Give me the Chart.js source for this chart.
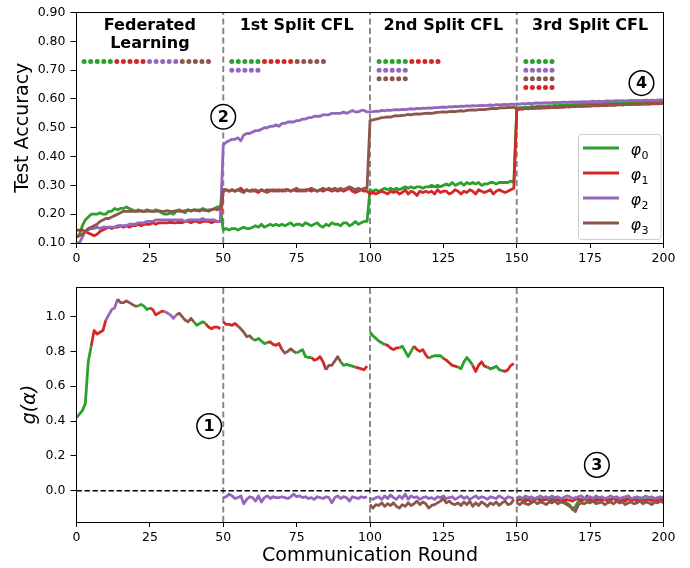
<!DOCTYPE html>
<html>
<head>
<meta charset="utf-8">
<script src="https://cdn.jsdelivr.net/npm/chart.js@4.4.0/dist/chart.umd.min.js"></script>
<style>
  body { margin: 0; background: #fff; }
  #wrap { position: relative; width: 690px; height: 568px; }
  #accChart { position: absolute; left: 0; top: 0; }
  #gChart { position: absolute; left: 0; top: 265px; }
</style>
</head>
<body>
<div id="wrap">
  <canvas id="accChart" width="690" height="265"></canvas>
  <canvas id="gChart" width="690" height="303"></canvas>
</div>
<script>
const colors = ['#2ca02c', '#d62728', '#9467bd', '#8c564b'];
const phases = [0, 50, 100, 150, 200];
const phaseNames = [['Federated', 'Learning'], ['1st Split CFL'], ['2nd Split CFL'], ['3rd Split CFL']];
const xTicks = [0, 25, 50, 75, 100, 125, 150, 175, 200];
const accTicks = [0.1, 0.2, 0.3, 0.4, 0.5, 0.6, 0.7, 0.8, 0.9];
const gTicks = [0, 0.2, 0.4, 0.6, 0.8, 1.0];

// Test accuracy, rounds 0..200
const acc0 = [0.12,0.13,0.16,0.18,0.19,0.2,0.2,0.2,0.205,0.2,
  0.2,0.21,0.21,0.22,0.215,0.22,0.22,0.225,0.22,0.215,
  0.21,0.215,0.21,0.21,0.215,0.21,0.21,0.215,0.21,0.205,
  0.2,0.2,0.205,0.2,0.21,0.215,0.21,0.205,0.215,0.21,
  0.215,0.215,0.21,0.22,0.215,0.21,0.215,0.22,0.225,0.225,
  0.145,0.15,0.145,0.15,0.15,0.145,0.15,0.155,0.15,0.15,
  0.155,0.16,0.155,0.165,0.155,0.16,0.165,0.16,0.165,0.16,
  0.165,0.16,0.165,0.17,0.16,0.165,0.165,0.16,0.17,0.165,
  0.16,0.165,0.17,0.16,0.155,0.165,0.16,0.17,0.165,0.165,
  0.16,0.17,0.17,0.16,0.165,0.175,0.165,0.17,0.175,0.175,
  0.285,0.28,0.285,0.28,0.285,0.29,0.285,0.29,0.285,0.29,
  0.285,0.29,0.295,0.29,0.295,0.29,0.295,0.295,0.29,0.295,
  0.295,0.3,0.295,0.3,0.295,0.3,0.305,0.3,0.31,0.3,
  0.305,0.31,0.3,0.31,0.305,0.31,0.305,0.31,0.3,0.305,
  0.305,0.31,0.31,0.305,0.31,0.31,0.31,0.31,0.315,0.31,
  0.565,0.57,0.57,0.572,0.57,0.574,0.572,0.575,0.574,0.576,
  0.575,0.577,0.576,0.578,0.577,0.579,0.578,0.58,0.579,0.58,
  0.581,0.58,0.582,0.581,0.583,0.582,0.584,0.583,0.585,0.584,
  0.585,0.586,0.585,0.587,0.586,0.587,0.588,0.587,0.588,0.589,
  0.588,0.589,0.59,0.589,0.59,0.591,0.59,0.591,0.592,0.591,0.592];
const acc1 = [0.145,0.145,0.145,0.14,0.135,0.13,0.125,0.13,0.14,0.145,
  0.15,0.155,0.15,0.155,0.155,0.16,0.155,0.16,0.155,0.16,
  0.16,0.165,0.16,0.165,0.165,0.165,0.17,0.165,0.17,0.17,
  0.17,0.17,0.175,0.17,0.17,0.175,0.17,0.175,0.175,0.17,
  0.175,0.175,0.17,0.175,0.175,0.175,0.17,0.175,0.175,0.175,
  0.28,0.285,0.28,0.285,0.28,0.285,0.29,0.28,0.285,0.28,
  0.285,0.28,0.275,0.285,0.28,0.285,0.28,0.285,0.28,0.285,
  0.28,0.285,0.285,0.28,0.285,0.28,0.285,0.28,0.285,0.285,
  0.28,0.285,0.28,0.285,0.28,0.285,0.285,0.28,0.285,0.28,
  0.285,0.28,0.285,0.29,0.28,0.275,0.28,0.285,0.28,0.28,
  0.27,0.275,0.27,0.275,0.28,0.275,0.27,0.28,0.275,0.28,
  0.27,0.275,0.285,0.27,0.28,0.275,0.265,0.28,0.275,0.28,
  0.275,0.28,0.27,0.285,0.275,0.28,0.28,0.27,0.275,0.285,
  0.28,0.27,0.28,0.275,0.285,0.28,0.27,0.285,0.28,0.275,
  0.28,0.285,0.27,0.28,0.285,0.28,0.275,0.28,0.285,0.29,
  0.56,0.565,0.565,0.567,0.566,0.568,0.567,0.569,0.568,0.57,
  0.569,0.571,0.57,0.572,0.571,0.573,0.572,0.574,0.573,0.575,
  0.574,0.575,0.576,0.575,0.577,0.576,0.577,0.578,0.577,0.578,
  0.579,0.578,0.58,0.579,0.58,0.581,0.58,0.581,0.582,0.581,
  0.582,0.583,0.582,0.583,0.584,0.583,0.584,0.585,0.584,0.585,0.586];
const acc2 = [0.1,0.1,0.12,0.14,0.145,0.15,0.15,0.155,0.15,0.155,
  0.155,0.155,0.155,0.155,0.16,0.16,0.16,0.16,0.165,0.165,
  0.165,0.17,0.17,0.17,0.175,0.175,0.175,0.18,0.18,0.18,
  0.18,0.18,0.18,0.18,0.18,0.18,0.18,0.175,0.18,0.18,
  0.18,0.18,0.18,0.185,0.18,0.18,0.18,0.18,0.175,0.175,
  0.44,0.45,0.455,0.46,0.46,0.465,0.455,0.475,0.48,0.48,
  0.485,0.49,0.49,0.495,0.5,0.5,0.505,0.505,0.51,0.505,
  0.515,0.515,0.52,0.52,0.52,0.525,0.525,0.53,0.53,0.535,
  0.535,0.54,0.54,0.54,0.545,0.545,0.545,0.55,0.55,0.55,
  0.55,0.555,0.55,0.555,0.56,0.555,0.555,0.56,0.56,0.555,
  0.555,0.556,0.558,0.557,0.56,0.559,0.561,0.56,0.562,0.563,
  0.562,0.564,0.563,0.565,0.566,0.565,0.567,0.566,0.568,0.567,
  0.569,0.568,0.57,0.57,0.571,0.572,0.571,0.573,0.572,0.574,
  0.573,0.575,0.574,0.576,0.575,0.577,0.576,0.577,0.578,0.577,
  0.578,0.579,0.578,0.58,0.579,0.58,0.581,0.58,0.582,0.581,
  0.583,0.582,0.584,0.583,0.585,0.584,0.585,0.586,0.585,0.586,
  0.587,0.586,0.587,0.588,0.587,0.588,0.589,0.588,0.589,0.59,
  0.589,0.59,0.59,0.591,0.59,0.591,0.592,0.591,0.592,0.591,
  0.592,0.593,0.592,0.593,0.594,0.593,0.594,0.593,0.594,0.595,
  0.594,0.595,0.594,0.595,0.596,0.595,0.596,0.595,0.596,0.597,0.597];
const acc3 = [0.12,0.125,0.13,0.14,0.15,0.155,0.16,0.165,0.175,0.18,
  0.185,0.185,0.19,0.195,0.2,0.205,0.21,0.21,0.21,0.21,
  0.21,0.21,0.212,0.21,0.21,0.212,0.21,0.21,0.212,0.21,
  0.21,0.212,0.21,0.21,0.212,0.21,0.21,0.212,0.215,0.212,
  0.215,0.212,0.215,0.215,0.212,0.215,0.215,0.218,0.215,0.22,
  0.285,0.285,0.28,0.285,0.28,0.285,0.28,0.275,0.285,0.28,
  0.28,0.285,0.28,0.285,0.28,0.275,0.285,0.28,0.285,0.28,
  0.285,0.28,0.285,0.28,0.285,0.29,0.28,0.285,0.28,0.285,
  0.29,0.285,0.28,0.285,0.29,0.285,0.29,0.285,0.29,0.285,
  0.29,0.285,0.29,0.295,0.29,0.285,0.29,0.285,0.29,0.29,
  0.525,0.527,0.53,0.532,0.535,0.536,0.538,0.537,0.54,0.542,
  0.541,0.543,0.544,0.546,0.545,0.547,0.548,0.547,0.549,0.55,
  0.551,0.55,0.552,0.553,0.554,0.555,0.554,0.556,0.557,0.556,
  0.558,0.559,0.558,0.56,0.561,0.562,0.561,0.563,0.564,0.563,
  0.565,0.566,0.567,0.566,0.568,0.57,0.569,0.571,0.57,0.572,
  0.565,0.566,0.566,0.567,0.566,0.568,0.567,0.569,0.568,0.569,
  0.57,0.569,0.571,0.57,0.572,0.571,0.572,0.573,0.572,0.574,
  0.573,0.574,0.575,0.574,0.576,0.575,0.576,0.577,0.576,0.578,
  0.577,0.578,0.579,0.578,0.579,0.58,0.579,0.58,0.581,0.58,
  0.581,0.582,0.581,0.582,0.583,0.582,0.583,0.584,0.583,0.584,0.585];

// g(alpha): upper curve per phase (rounds 0-49, 50-99, 100-149) with the client that owns each segment
const gFed = [0.42,0.44,0.46,0.5,0.74,0.83,0.92,0.9,0.91,0.92,
  0.98,1.01,1.04,1.05,1.1,1.08,1.08,1.09,1.08,1.07,
  1.06,1.06,1.07,1.06,1.04,1.05,1.04,1.01,1.02,1.03,
  1.03,1.02,1.01,0.99,1.01,1.02,1.0,0.98,0.97,0.99,
  0.97,0.95,0.96,0.97,0.96,0.94,0.93,0.94,0.94,0.93];
const gFedOwner = [0,0,0,0,0,1,1,1,1,1,2,2,2,2,3,3,3,3,3,3,3,0,0,0,0,
  1,1,1,1,1,2,2,2,2,3,3,3,3,3,3,0,0,0,0,1,1,1,1,1,1];
const gSplit1 = [0.97,0.955,0.955,0.95,0.96,0.945,0.93,0.91,0.885,0.89,
  0.87,0.865,0.875,0.86,0.845,0.85,0.855,0.84,0.835,0.845,
  0.81,0.79,0.8,0.815,0.8,0.79,0.8,0.81,0.77,0.765,
  0.765,0.75,0.755,0.77,0.74,0.695,0.72,0.72,0.745,0.77,
  0.74,0.72,0.725,0.72,0.715,0.71,0.705,0.7,0.695,0.715];
const gSplit1Owner = [1,1,1,1,1,3,3,3,3,3,0,0,0,0,0,1,1,1,1,1,3,3,3,3,3,
  0,0,0,0,0,1,1,1,1,1,3,3,3,3,3,0,0,0,0,0,1,1,1,1,1];
const gSplit2 = [0.91,0.89,0.875,0.86,0.85,0.84,0.835,0.82,0.81,0.82,
  0.82,0.83,0.8,0.77,0.8,0.83,0.81,0.8,0.81,0.78,
  0.76,0.77,0.775,0.775,0.775,0.76,0.75,0.735,0.72,0.715,
  0.71,0.7,0.74,0.765,0.745,0.72,0.685,0.72,0.74,0.715,
  0.71,0.7,0.705,0.715,0.695,0.69,0.685,0.695,0.72,0.73];
const gSplit2Owner = [0,0,0,0,0,1,1,1,1,1,0,0,0,0,0,1,1,1,1,1,0,0,0,0,0,
  1,1,1,1,1,0,0,0,0,0,1,1,1,1,1,0,0,0,0,0,1,1,1,1,1];

// g(alpha): lower curves
const gPurple1 = [-0.04,-0.035,-0.02,-0.03,-0.045,-0.04,-0.03,-0.075,-0.05,-0.035,
  -0.04,-0.06,-0.03,-0.065,-0.04,-0.03,-0.045,-0.035,-0.04,-0.04,
  -0.035,-0.04,-0.045,-0.035,-0.02,-0.035,-0.03,-0.04,-0.035,-0.045,
  -0.04,-0.05,-0.035,-0.04,-0.045,-0.035,-0.04,-0.07,-0.04,-0.03,
  -0.045,-0.035,-0.04,-0.06,-0.035,-0.04,-0.045,-0.035,-0.04,-0.035];
const gPurple2 = [-0.045,-0.05,-0.04,-0.035,-0.05,-0.03,-0.045,-0.025,-0.04,-0.05,
  -0.03,-0.045,-0.02,-0.05,-0.03,-0.04,-0.035,-0.05,-0.04,-0.035,
  -0.045,-0.04,-0.05,-0.035,-0.04,-0.03,-0.045,-0.04,-0.035,-0.05,
  -0.04,-0.03,-0.045,-0.035,-0.05,-0.04,-0.03,-0.045,-0.035,-0.04,
  -0.05,-0.035,-0.04,-0.045,-0.03,-0.04,-0.05,-0.035,-0.04,-0.045];
const gBrown2 = [-0.08,-0.1,-0.08,-0.085,-0.07,-0.09,-0.075,-0.085,-0.07,-0.09,
  -0.1,-0.08,-0.09,-0.07,-0.085,-0.075,-0.06,-0.08,-0.065,-0.075,
  -0.1,-0.085,-0.08,-0.07,-0.06,-0.045,-0.07,-0.06,-0.075,-0.08,
  -0.07,-0.085,-0.065,-0.08,-0.06,-0.09,-0.07,-0.085,-0.065,-0.075,
  -0.09,-0.07,-0.08,-0.065,-0.085,-0.07,-0.06,-0.08,-0.075,-0.05];
const gLast0 = [-0.05,-0.04,-0.06,-0.045,-0.05,-0.04,-0.055,-0.045,-0.05,-0.04,
  -0.045,-0.055,-0.04,-0.05,-0.045,-0.06,-0.05,-0.07,-0.08,-0.11,
  -0.09,-0.06,-0.05,-0.045,-0.055,-0.04,-0.05,-0.045,-0.055,-0.04,
  -0.05,-0.045,-0.06,-0.04,-0.05,-0.055,-0.045,-0.05,-0.04,-0.06,
  -0.045,-0.05,-0.04,-0.055,-0.05,-0.045,-0.06,-0.045,-0.05,-0.04,-0.05];
const gLast1 = [-0.06,-0.05,-0.045,-0.06,-0.05,-0.07,-0.05,-0.04,-0.06,-0.055,
  -0.05,-0.04,-0.06,-0.05,-0.055,-0.045,-0.06,-0.05,-0.055,-0.06,
  -0.05,-0.045,-0.06,-0.05,-0.03,-0.055,-0.05,-0.06,-0.045,-0.055,
  -0.05,-0.06,-0.05,-0.045,-0.055,-0.07,-0.05,-0.06,-0.045,-0.055,
  -0.05,-0.06,-0.045,-0.055,-0.06,-0.05,-0.055,-0.045,-0.06,-0.05,-0.055];
const gLast2 = [-0.04,-0.035,-0.045,-0.03,-0.04,-0.035,-0.045,-0.04,-0.03,-0.04,
  -0.035,-0.045,-0.03,-0.04,-0.035,-0.045,-0.04,-0.03,-0.035,-0.045,
  -0.04,-0.035,-0.03,-0.045,-0.04,-0.035,-0.045,-0.03,-0.04,-0.035,
  -0.045,-0.04,-0.03,-0.04,-0.035,-0.045,-0.04,-0.035,-0.03,-0.045,
  -0.04,-0.035,-0.045,-0.04,-0.03,-0.04,-0.035,-0.045,-0.04,-0.035,-0.04];
const gLast3 = [-0.07,-0.08,-0.065,-0.075,-0.08,-0.07,-0.06,-0.075,-0.065,-0.07,
  -0.08,-0.065,-0.07,-0.06,-0.075,-0.065,-0.07,-0.08,-0.09,-0.1,
  -0.12,-0.08,-0.07,-0.075,-0.065,-0.07,-0.06,-0.075,-0.07,-0.065,
  -0.08,-0.07,-0.065,-0.075,-0.06,-0.07,-0.065,-0.08,-0.07,-0.065,
  -0.075,-0.07,-0.06,-0.075,-0.065,-0.07,-0.08,-0.065,-0.07,-0.06,-0.07];

// cluster membership dots per phase (client index per dot, one list per row)
const dotRows = [
  [[0,0,0,0,0,1,1,1,1,1,2,2,2,2,2,3,3,3,3,3]],
  [[0,0,0,0,0,1,1,1,1,1,3,3,3,3,3], [2,2,2,2,2]],
  [[0,0,0,0,0,1,1,1,1,1], [2,2,2,2,2], [3,3,3,3,3]],
  [[0,0,0,0,0], [2,2,2,2,2], [3,3,3,3,3], [1,1,1,1,1]]
];
const dotStart = [2.6, 52.9, 103.1, 153.1];
const dotStep = 2.23;
const dotTop = 0.73;
const dotGap = 0.03;

const accMarkers = [{text: '2', x: 50, y: 0.538}, {text: '4', x: 192.5, y: 0.655}];
const gMarkers = [{text: '1', x: 45.2, y: 0.371}, {text: '3', x: 177.3, y: 0.148}];

Chart.defaults.font.family = '"DejaVu Sans"';
Chart.defaults.font.size = 12.5;
Chart.defaults.color = '#000';

const xy = (start, vals) => vals.map((v, i) => ({x: start + i, y: v}));

const line = (start, vals, color, order) => ({
  data: xy(start, vals),
  borderColor: color,
  borderWidth: 2.8,
  pointRadius: 0,
  borderJoinStyle: 'round',
  tension: 0,
  order: order
});

const ownedLine = (start, vals, owner) => ({
  data: xy(start, vals),
  borderColor: colors[owner[0]],
  segment: { borderColor: ctx => colors[owner[ctx.p0DataIndex]] },
  borderWidth: 2.8,
  pointRadius: 0,
  borderJoinStyle: 'round',
  tension: 0,
  order: 1
});

const separators = (ymin, ymax) => [50, 100, 150].map(b => ({
  data: [{x: b, y: ymin}, {x: b, y: ymax}],
  borderColor: '#888888',
  borderWidth: 2,
  borderDash: [6, 3.5],
  pointRadius: 0,
  order: 10
}));

const dotSets = colors.map((c, k) => {
  const pts = [];
  dotRows.forEach((rows, p) => rows.forEach((row, r) => row.forEach((owner, i) => {
    if (owner === k) pts.push({x: dotStart[p] + i * dotStep, y: dotTop - r * dotGap});
  })));
  return {data: pts, showLine: false, pointRadius: 2.5, pointBorderWidth: 0,
    pointBackgroundColor: c, order: 0};
});

// frame, phase titles, circled markers and legend
const overlay = {
  id: 'overlay',
  afterDatasetsDraw(chart, args, opts) {
    const {ctx, chartArea: a, scales: {x, y}} = chart;
    ctx.save();
    ctx.strokeStyle = '#000';
    ctx.lineWidth = 1;
    const l = Math.round(a.left - 0.5) + 0.5, t = Math.round(a.top - 0.5) + 0.5;
    const r = Math.round(a.right - 0.5) + 0.5, b = Math.round(a.bottom - 0.5) + 0.5;
    ctx.strokeRect(l, t, r - l, b - t);

    if (opts.titles) {
      ctx.fillStyle = '#000';
      ctx.font = 'bold 16px "DejaVu Sans"';
      ctx.textAlign = 'center';
      ctx.textBaseline = 'middle';
      phaseNames.forEach((lines, i) => {
        const cx = x.getPixelForValue((phases[i] + phases[i + 1]) / 2);
        lines.forEach((s, j) => ctx.fillText(s, cx, a.top + 13 + j * 18.5));
      });
    }

    opts.markers.forEach(m => {
      const px = x.getPixelForValue(m.x), py = y.getPixelForValue(m.y);
      ctx.beginPath();
      ctx.arc(px, py, 12.3, 0, Math.PI * 2);
      ctx.fillStyle = '#fff';
      ctx.fill();
      ctx.lineWidth = 1.5;
      ctx.strokeStyle = '#000';
      ctx.stroke();
      ctx.fillStyle = '#000';
      ctx.font = 'bold 16px "DejaVu Sans"';
      ctx.textAlign = 'center';
      ctx.textBaseline = 'middle';
      ctx.fillText(m.text, px, py + 1);
    });

    if (opts.legend) {
      const lx = a.right - 85, ly = a.top + 122;
      ctx.beginPath();
      ctx.roundRect(lx, ly, 82.5, 105, 3);
      ctx.fillStyle = 'rgba(255,255,255,0.8)';
      ctx.fill();
      ctx.strokeStyle = '#cccccc';
      ctx.lineWidth = 1;
      ctx.stroke();
      colors.forEach((c, k) => {
        const ry = ly + 13.5 + k * 25;
        ctx.beginPath();
        ctx.moveTo(lx + 4.5, ry);
        ctx.lineTo(lx + 40.5, ry);
        ctx.strokeStyle = c;
        ctx.lineWidth = 3;
        ctx.stroke();
        ctx.fillStyle = '#000';
        ctx.textAlign = 'left';
        ctx.textBaseline = 'middle';
        ctx.font = 'italic 16px "DejaVu Sans"';
        ctx.fillText('φ', lx + 52, ry + 3);
        const w = ctx.measureText('φ').width;
        ctx.font = '11px "DejaVu Sans"';
        ctx.fillText(String(k), lx + 52 + w + 0.5, ry + 8);
      });
    }
    ctx.restore();
  }
};

const xScale = (withTitle) => ({
  type: 'linear',
  min: 0, max: 200,
  afterBuildTicks: s => { s.ticks = xTicks.map(v => ({value: v})); },
  afterFit: s => { s.height = withTitle ? 46 : 22; },
  ticks: { autoSkip: false, maxRotation: 0, padding: 3 },
  grid: { drawOnChartArea: false, tickLength: 5, color: '#000' },
  border: { color: '#000', width: 1 },
  title: { display: withTitle, text: 'Communication Round', font: {size: 19},
    padding: {top: 0, bottom: 0.6} }
});

const baseOptions = {
  responsive: false,
  animation: false,
  events: [],
  plugins: { legend: { display: false }, tooltip: { enabled: false } }
};

new Chart(document.getElementById('accChart'), {
  type: 'line',
  data: {
    datasets: [
      line(0, acc0, colors[0], 4),
      line(0, acc1, colors[1], 3),
      line(0, acc2, colors[2], 2),
      line(0, acc3, colors[3], 1),
      ...dotSets,
      ...separators(0.1, 0.9)
    ]
  },
  options: {
    ...baseOptions,
    layout: { padding: { top: 9, right: 26.5, left: 0, bottom: 0 } },
    plugins: { ...baseOptions.plugins, overlay: { markers: accMarkers, titles: true, legend: true } },
    scales: {
      x: xScale(false),
      y: {
        min: 0.1, max: 0.9,
        afterBuildTicks: s => { s.ticks = accTicks.map(v => ({value: v})); },
        afterFit: s => { s.width = 76.5; },
        ticks: { autoSkip: false, padding: 5, callback: v => v.toFixed(2) },
        grid: { drawOnChartArea: false, tickLength: 6, color: '#000' },
        border: { color: '#000', width: 1 },
        title: { display: true, text: 'Test Accuracy', font: {size: 19}, padding: {top: 11.3} }
      }
    }
  },
  plugins: [overlay]
});

new Chart(document.getElementById('gChart'), {
  type: 'line',
  data: {
    datasets: [
      ownedLine(0, gFed, gFedOwner),
      ownedLine(50, gSplit1, gSplit1Owner),
      ownedLine(100, gSplit2, gSplit2Owner),
      line(50, gPurple1, colors[2], 2),
      line(100, gPurple2, colors[2], 3),
      line(100, gBrown2, colors[3], 2),
      line(150, gLast0, colors[0], 5),
      line(150, gLast1, colors[1], 4),
      line(150, gLast2, colors[2], 3),
      line(150, gLast3, colors[3], 2),
      ...separators(-0.18, 1.17),
      { data: [{x: 0, y: 0}, {x: 200, y: 0}], borderColor: '#000', borderWidth: 1.5,
        borderDash: [5.5, 2.5], pointRadius: 0, order: 0 }
    ]
  },
  options: {
    ...baseOptions,
    layout: { padding: { top: 22, right: 26.5, left: 0, bottom: 0 } },
    plugins: { ...baseOptions.plugins, overlay: { markers: gMarkers, titles: false, legend: false } },
    scales: {
      x: xScale(true),
      y: {
        min: -0.18, max: 1.17,
        afterBuildTicks: s => { s.ticks = gTicks.map(v => ({value: v})); },
        afterFit: s => { s.width = 76.5; },
        ticks: { autoSkip: false, padding: 5, callback: v => v.toFixed(1) },
        grid: { drawOnChartArea: false, tickLength: 6, color: '#000' },
        border: { color: '#000', width: 1 },
        title: { display: true, text: 'g(α)', font: {size: 19, style: 'italic'}, padding: {top: 18.6} }
      }
    }
  },
  plugins: [overlay]
});
</script>
</body>
</html>
